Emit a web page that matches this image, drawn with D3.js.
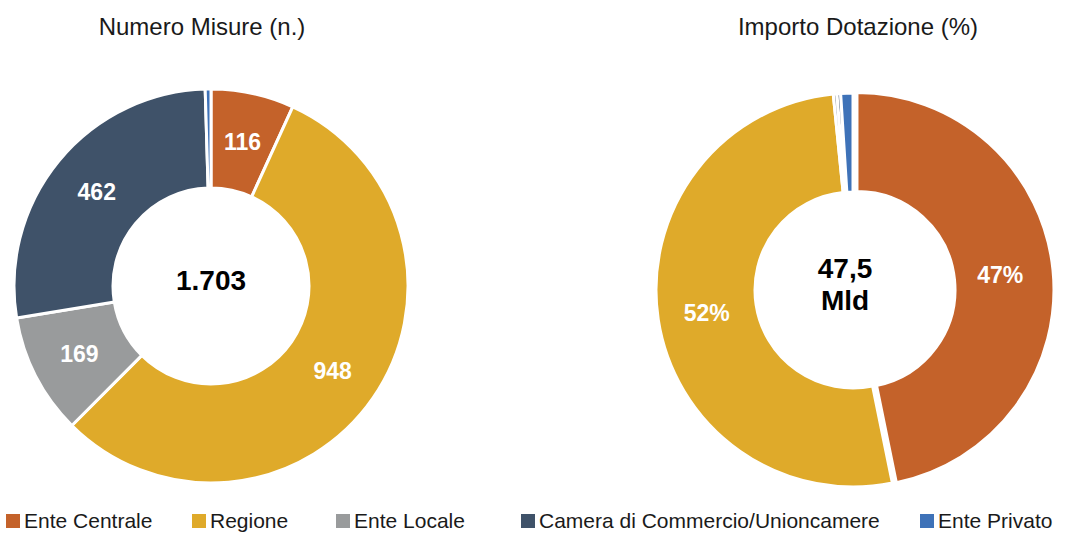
<!DOCTYPE html>
<html>
<head>
<meta charset="utf-8">
<script src="https://cdn.jsdelivr.net/npm/d3@7"></script>
<style>
  body { margin: 0; background: #fff; }
  text { font-family: "Liberation Sans", Arial, sans-serif; }
</style>
</head>
<body>
<div id="chart"></div>
<script>
var width = 1066,
    height = 534;

// data
var categories = ["Ente Centrale", "Regione", "Ente Locale", "Camera di Commercio/Unioncamere", "Ente Privato"];
var colors = ["#C4622A", "#DFAA2A", "#999B9C", "#3F5269", "#3E72B8"];
var misure = [116, 948, 169, 462, 8];
var dotazione = [46.8, 51.6, 0.3, 0.3, 1.0];
var titles = ["Numero Misure (n.)", "Importo Dotazione (%)"];
var centerLabels = [["1.703"], ["47,5", "Mld"]];

var svg = d3.select("#chart").append("svg")
    .attr("width", width)
    .attr("height", height);

var outerR = 197, innerR = 98;
var color = d3.scaleOrdinal().domain(categories).range(colors);

var pie = d3.pie().sort(null).value(function(d) { return d.v; });
var arc = d3.arc().innerRadius(innerR).outerRadius(outerR);
var labelArc = d3.arc().innerRadius(148).outerRadius(148);

function donut(values, cx, cy, title, titleX, centerText, fmt, explode) {
    var g = svg.append("g").attr("transform", "translate(" + cx + "," + cy + ")");
    var data = pie(values.map(function(v, i) { return {v: v, name: categories[i]}; }));
    var total = d3.sum(values);

    g.selectAll(".slice")
        .data(data)
        .enter().append("path")
        .attr("class", "slice")
        .attr("d", arc)
        .attr("fill", function(d) { return color(d.data.name); })
        .attr("stroke", "#fff")
        .attr("stroke-width", 3)
        .attr("transform", function(d, i) {
            if (i !== explode) return null;
            var c = labelArc.centroid(d);
            var k = 4 / 148;
            return "translate(" + c[0] * k + "," + c[1] * k + ")";
        });

    g.selectAll(".val")
        .data(data.filter(function(d) { return d.data.v / total > 0.05; }))
        .enter().append("text")
        .attr("class", "val")
        .attr("transform", function(d) { return "translate(" + labelArc.centroid(d) + ")"; })
        .attr("text-anchor", "middle")
        .attr("dy", "0.36em")
        .attr("fill", "#fff")
        .style("font-size", "23px")
        .style("font-weight", "bold")
        .text(function(d) { return fmt(d.data.v); });

    var n = centerText.length;
    g.selectAll(".center")
        .data(centerText)
        .enter().append("text")
        .attr("class", "center")
        .attr("text-anchor", "middle")
        .attr("x", -8 * (n - 1))
        .attr("y", function(d, i) { return (i - (n - 1) / 2) * 32 - 6; })
        .attr("dy", "0.36em")
        .attr("fill", "#000")
        .style("font-size", "28px")
        .style("font-weight", "bold")
        .text(function(d) { return d; });

    svg.append("text")
        .attr("x", titleX)
        .attr("y", 35)
        .attr("text-anchor", "middle")
        .attr("fill", "#1a1a1a")
        .style("font-size", "24px")
        .text(title);
}

donut(misure, 211, 286, titles[0], 202, centerLabels[0], function(v) { return v; }, -1);
donut(dotazione, 853, 290, titles[1], 858, centerLabels[1], function(v) { return Math.round(v) + "%"; }, 0);

// legend
var legendX = [6, 192, 336, 521, 920];
var legend = svg.selectAll(".legend")
    .data(categories)
    .enter().append("g")
    .attr("class", "legend")
    .attr("transform", function(d, i) { return "translate(" + legendX[i] + ",514)"; });

legend.append("rect")
    .attr("width", 14)
    .attr("height", 14)
    .attr("fill", function(d) { return color(d); });

legend.append("text")
    .attr("x", 18)
    .attr("y", 14)
    .attr("fill", "#1a1a1a")
    .style("font-size", "21px")
    .text(function(d) { return d; });
</script>
</body>
</html>
